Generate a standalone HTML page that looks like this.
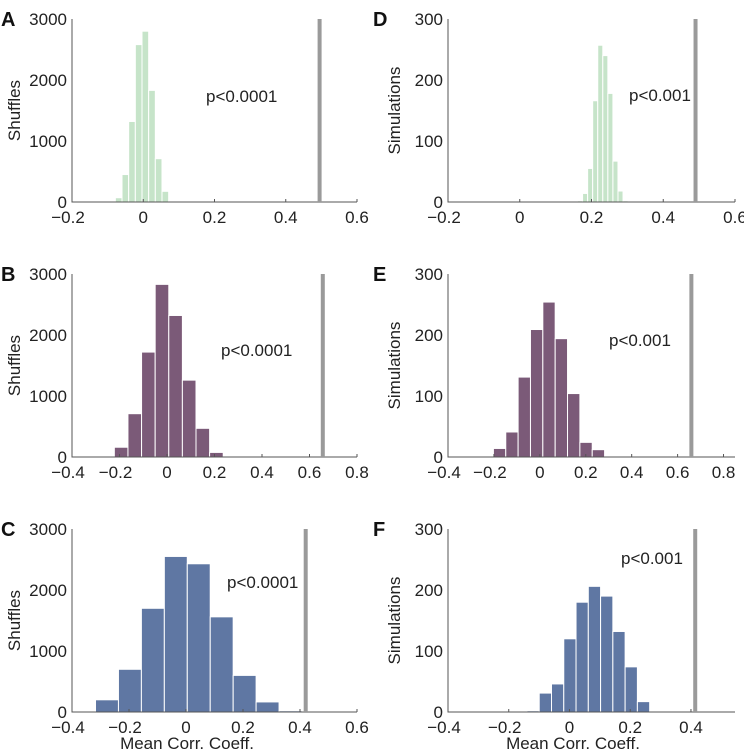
<!DOCTYPE html>
<html><head><meta charset="utf-8"><style>
body{margin:0;background:#fff}
svg{display:block;font-family:"Liberation Sans",sans-serif}
</style></head><body>
<svg id="fig" width="744" height="752" viewBox="0 0 744 752" xmlns="http://www.w3.org/2000/svg"></svg>
<script>
// Data arrays
const binStartA = -0.097, binWidthA = 0.0187;
const countsA = [15,70,450,1320,2580,2800,1830,710,175,15];
const binStartB = -0.279, binWidthB = 0.0573;
const countsB = [10,160,710,1720,2830,2320,1260,470,75];
const binStartC = -0.398, binWidthC = 0.0805;
const countsC = [15,200,700,1700,2550,2430,1560,600,165,20];
const binStartD = 0.161, binWidthD = 0.0141;
const countsD = [2,14,55,166,257,240,178,67,18,2];
const binStartE = -0.256, binWidthE = 0.0538;
const countsE = [1,14,41,131,209,254,194,104,24,12];
const binStartF = -0.14, binWidthF = 0.0404;
const countsF = [2,31,46,120,180,206,190,132,74,17];
const observed = [0.495,0.656,0.42,0.49,0.66,0.414];
const xTicksA = [-0.2,0,0.2,0.4,0.6];
const xTicksB = [-0.4,-0.2,0,0.2,0.4,0.6,0.8];
const xTicksC = [-0.4,-0.2,0,0.2,0.4,0.6];
const xTicksD = [-0.2,0,0.2,0.4,0.6];
const xTicksE = [-0.4,-0.2,0,0.2,0.4,0.6,0.8];
const xTicksF = [-0.4,-0.2,0,0.2,0.4];
const yTicksShuffles = [0,1000,2000,3000];
const yTicksSims = [0,100,200,300];
const pLabels = ["p<0.0001","p<0.0001","p<0.0001","p<0.001","p<0.001","p<0.001"];

const NS="http://www.w3.org/2000/svg";
const svg=document.getElementById('fig');
function mk(tag,attrs,parent){const e=document.createElementNS(NS,tag);for(const k in attrs)e.setAttribute(k,attrs[k]);(parent||svg).appendChild(e);return e;}

const panels=[
 {id:'a',letter:'A',x0:72,x1:357,yt:19,yb:202,xmin:-0.2,xmax:0.6,ymax:3000,start:binStartA,w:binWidthA,counts:countsA,xt:xTicksA,yt2:yTicksShuffles,color:'#c6e4c9',ylab:'Shuffles',px:206,py:102,xlab:false},
 {id:'b',letter:'B',x0:72,x1:357,yt:274,yb:457,xmin:-0.4,xmax:0.8,ymax:3000,start:binStartB,w:binWidthB,counts:countsB,xt:xTicksB,yt2:yTicksShuffles,color:'#7b5a78',ylab:'Shuffles',px:221,py:356,xlab:false},
 {id:'c',letter:'C',x0:72,x1:357,yt:529,yb:712,xmin:-0.4,xmax:0.6,ymax:3000,start:binStartC,w:binWidthC,counts:countsC,xt:xTicksC,yt2:yTicksShuffles,color:'#5f77a3',ylab:'Shuffles',px:227,py:588,xlab:true},
 {id:'d',letter:'D',x0:448,x1:735,yt:19,yb:202,xmin:-0.2,xmax:0.6,ymax:300,start:binStartD,w:binWidthD,counts:countsD,xt:xTicksD,yt2:yTicksSims,color:'#c6e4c9',ylab:'Simulations',px:629,py:101,xlab:false},
 {id:'e',letter:'E',x0:448,x1:735,yt:274,yb:457,xmin:-0.4,xmax:0.85,ymax:300,start:binStartE,w:binWidthE,counts:countsE,xt:xTicksE,yt2:yTicksSims,color:'#7b5a78',ylab:'Simulations',px:609,py:346,xlab:false},
 {id:'f',letter:'F',x0:448,x1:735,yt:529,yb:712,xmin:-0.4,xmax:0.545,ymax:300,start:binStartF,w:binWidthF,counts:countsF,xt:xTicksF,yt2:yTicksSims,color:'#5f77a3',ylab:'Simulations',px:621,py:564,xlab:true}
];

panels.forEach((p,pi)=>{
 const g=mk('g',{});
 
 
 const sx=v=>p.x0+(v-p.xmin)/(p.xmax-p.xmin)*(p.x1-p.x0);
 const sy=v=>p.yb-v/p.ymax*(p.yb-p.yt);
 p.counts.forEach((c,i)=>{
  const a=p.start+i*p.w, b=a+p.w;
  const r=mk('rect',{x:sx(a),y:sy(c),width:sx(b)-sx(a),height:p.yb-sy(c),fill:p.color,stroke:'#fff','stroke-width':1},g);
  
  
 });
 const ax=mk('path',{d:`M${p.x0} ${p.yt} V${p.yb} H${p.x1}`,fill:'none',stroke:'#555','stroke-width':1},g);
 
 
 p.xt.forEach(t=>{
  mk('line',{x1:sx(t),x2:sx(t),y1:p.yb,y2:p.yb-3,stroke:'#555','stroke-width':1},g);
  const tx=mk('text',{x:sx(t)+(t<0?-4:0),y:p.yb+21,'font-size':17,'text-anchor':'middle',fill:'#222'},g);
  tx.textContent=(t<0?'\u2212':'')+Math.abs(t).toString();
  
  
 });
 p.yt2.forEach(t=>{
  const ty=mk('text',{x:p.x0-5,y:sy(t)+6,'font-size':17,'text-anchor':'end',fill:'#222'},g);
  ty.textContent=String(t);
  
  
 });
 const ol=mk('line',{x1:sx(observed[pi]),x2:sx(observed[pi]),y1:p.yt,y2:p.yb,stroke:'#9a9a9a','stroke-width':4},g);
 
 
 const pt=mk('text',{x:p.px,y:p.py,'font-size':17,fill:'#222'},g);
 pt.textContent=pLabels[pi];
 
 
 const lt=mk('text',{x:p.x0<200?1:373,y:p.yt+7,'font-size':20,'font-weight':'bold',fill:'#111'},g);
 lt.textContent=p.letter;
 
 
 const yc=(p.yt+p.yb)/2, yx=p.x0<200?20:400;
 const yl=mk('text',{x:yx,y:yc,'font-size':17,'text-anchor':'middle',fill:'#222',transform:`rotate(-90 ${yx} ${yc})`},g);
 yl.textContent=p.ylab;
 
 
 if(p.xlab){
  const xl=mk('text',{x:p.x0<200?187:573,y:749,'font-size':17,'text-anchor':'middle',fill:'#222'},g);
  xl.textContent='Mean Corr. Coeff.';
  
  
 }
});
</script>
</body></html>
